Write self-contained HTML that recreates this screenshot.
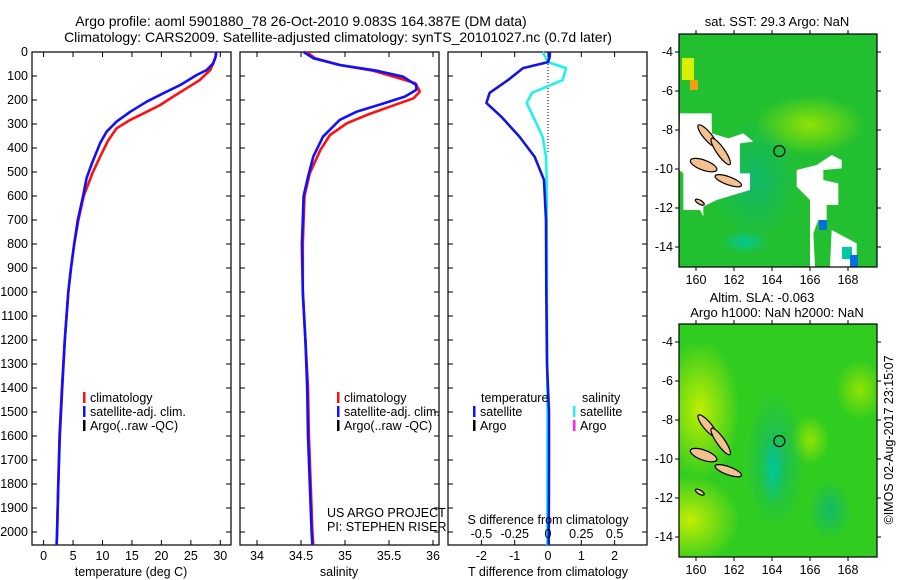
<!DOCTYPE html>
<html><head><meta charset="utf-8"><style>
body{margin:0;background:#fff;}
svg{display:block;font-family:"Liberation Sans",sans-serif;font-size:12.5px;}
.big{font-size:14px;}
.mt{font-size:13px;}
</style></head><body>
<svg id="chart" width="900" height="580" viewBox="0 0 900 580" xmlns="http://www.w3.org/2000/svg">
<g>
<text class="big" x="301" y="26" text-anchor="middle">Argo profile: aoml 5901880_78 26-Oct-2010 9.083S 164.387E (DM data)</text>
<text class="big" x="338" y="42" text-anchor="middle">Climatology: CARS2009. Satellite-adjusted climatology: synTS_20101027.nc (0.7d later)</text>
</g>
<g id="panels"></g>
<g id="maps"></g>
<text transform="translate(893,440) rotate(-90)" text-anchor="middle">©IMOS 02-Aug-2017 23:15:07</text>
</svg>
<script>
const NS='http://www.w3.org/2000/svg';
// ---- data ----
const tcDepth=[0,20,47,75,117,151,186,221,249,283,318,367,421,504,600,700,800,900,1000,1200,1400,1600,1800,2000,2054];
const tempClim=[29.3,29.2,28.8,28.3,26.5,24.3,22.0,19.8,17.5,14.7,12.4,11.0,9.9,8.3,6.8,5.9,5.2,4.65,4.2,3.6,3.1,2.7,2.5,2.3,2.2];
const tsDepth=[0,20,47,75,96,138,172,207,249,290,332,380,464,525,600,700,800,900,1000,1200,1400,1600,1800,2000,2054];
const tempSat=[29.3,29.2,28.8,27.7,26.0,23.2,20.3,17.5,14.7,12.4,10.7,9.6,8.2,7.3,6.7,5.8,5.2,4.65,4.2,3.6,3.15,2.75,2.5,2.3,2.2];
const scDepth=[0,5,26,54,78,110,130,165,193,228,262,297,346,408,505,600,700,800,1000,1200,1400,1600,1800,2000,2054];
const salClim=[34.55,34.58,34.66,34.94,35.32,35.62,35.80,35.85,35.78,35.51,35.25,35.02,34.83,34.72,34.60,34.54,34.53,34.52,34.52,34.55,34.58,34.59,34.61,34.63,34.64];
const ssDepth=[0,5,26,54,78,103,138,158,186,214,249,283,353,436,521,600,700,800,1000,1200,1400,1600,1800,2000,2054];
const salSat=[34.53,34.55,34.64,34.94,35.36,35.66,35.81,35.81,35.68,35.44,35.13,34.94,34.75,34.64,34.58,34.53,34.52,34.51,34.52,34.55,34.57,34.58,34.6,34.62,34.63];
const dDepth=[0,20,42,67,117,170,212,270,354,437,533,700,1000,1300,1500,1700,2054];
const tDiff=[0.06,0.05,0,-0.75,-1.2,-1.75,-1.85,-1.4,-0.85,-0.4,-0.12,-0.06,-0.05,-0.03,0.03,0.03,0.02];
const sDiff=[-0.04,-0.02,0,0.135,0.11,-0.12,-0.16,-0.11,-0.04,-0.015,-0.01,-0.01,-0.008,-0.006,-0.004,-0.005,-0.006];
const depthTicks=[0,100,200,300,400,500,600,700,800,900,1000,1100,1200,1300,1400,1500,1600,1700,1800,1900,2000];
const tempTicks=[0,5,10,15,20,25,30];
const salTicks=[34,34.5,35,35.5,36];
const salTickLabels=['34','34.5','35','35.5','36'];
const tdTicks=[-2,-1,0,1,2];
const sdTickLabels=['-0.5','-0.25','0','0.25','0.5'];
const latTicks=[-4,-6,-8,-10,-12,-14];
const lonTicks=[160,162,164,166,168];
const argoLon=164.387, argoLat=-9.083;

function el(tag,attrs,parent,txt){const e=document.createElementNS(NS,tag);for(const k in attrs)e.setAttribute(k,attrs[k]);if(txt!==undefined)e.textContent=txt;parent.appendChild(e);return e;}
const Y0=52,Y1=545;
const yD=d=>Y0+d*0.24;
const panelsG=document.getElementById('panels');
const panels=[
 {name:'temperature-panel',x0:32,x1:231,fx:v=>43.6+v*5.89},
 {name:'salinity-panel',x0:240,x1:439,fx:v=>257+(v-34)*88},
 {name:'difference-panel',x0:448,x1:647,fx:v=>548+v*33.3}
];
const sdx=v=>548+v*133.2;
panels.forEach((p,i)=>{
 const g=el('g',{},panelsG);
 
 
 const r=el('rect',{x:p.x0,y:Y0,width:p.x1-p.x0,height:Y1-Y0,fill:'none',stroke:'#000','stroke-width':1.2},g);
 
 
 depthTicks.forEach(d=>{
  const y=yD(d);
  el('line',{x1:p.x0,x2:p.x0+5,y1:y,y2:y,stroke:'#000'},g);
  el('line',{x1:p.x1,x2:p.x1-5,y1:y,y2:y,stroke:'#000'},g);
  if(i===0){const t=el('text',{x:28,y:y+4,'text-anchor':'end'},g,String(d));
   
   }
 });
 let ticks=i===0?tempTicks:i===1?salTicks:tdTicks;
 ticks.forEach((v,k)=>{
  const x=p.fx(v);
  el('line',{x1:x,x2:x,y1:Y0,y2:Y0+5,stroke:'#000'},g);
  el('line',{x1:x,x2:x,y1:Y1,y2:Y1-5,stroke:'#000'},g);
  const lab=i===1?salTickLabels[k]:String(v);
  const t=el('text',{x:x,y:560,'text-anchor':'middle'},g,lab);
  
  
 });
});
function line(parent,xs,ds,fx,color,name,w){
 const pts=xs.map((v,k)=>fx(v).toFixed(1)+','+yD(ds[k]).toFixed(1)).join(' ');
 const pl=el('polyline',{points:pts,fill:'none',stroke:color,'stroke-width':w||2.6,'stroke-linejoin':'round'},parent);
 
 
}
line(panelsG,tempClim,tcDepth,panels[0].fx,'#ff1010','temperature-climatology-line');
line(panelsG,tempSat,tsDepth,panels[0].fx,'#1010ff','temperature-satellite-line');
line(panelsG,salClim,scDepth,panels[1].fx,'#ff1010','salinity-climatology-line');
line(panelsG,salSat,ssDepth,panels[1].fx,'#1010ff','salinity-satellite-line');
const zl=el('line',{x1:548,x2:548,y1:Y0,y2:yD(420),stroke:'#000','stroke-dasharray':'1,2'},panelsG);


line(panelsG,sDiff,dDepth,sdx,'#20f0f0','salinity-difference-line');
line(panelsG,tDiff,dDepth,panels[2].fx,'#1515e0','temperature-difference-line');
sdTickLabels.forEach((l,k)=>{const t=el('text',{x:panels[2].fx(tdTicks[k]),y:538,'text-anchor':'middle'},panelsG,l);
 
 });
function txt(x,y,s,name,anchor){const t=el('text',{x:x,y:y,'text-anchor':anchor||'start'},panelsG,s);return t;}
txt(548,524,'S difference from climatology','s-diff-axis-title','middle');
txt(131,576,'temperature (deg C)','temperature-axis-title','middle');
txt(339,576,'salinity','salinity-axis-title','middle');
txt(548,576,'T difference from climatology','t-diff-axis-title','middle');
txt(327,517,'US ARGO PROJECT','project-label');
txt(327,531,'PI: STEPHEN RISER','pi-label');
function legend(x,y,color,label,name){
 const g=el('g',{},panelsG);
 el('rect',{x:x,y:y-10,width:2.5,height:11,fill:color},g);
 el('text',{x:x+7,y:y},g,label);
}
[[83,'#ff1010','climatology'],[83,'#1010ff','satellite-adj. clim.'],[83,'#000','Argo(..raw -QC)']].forEach((a,k)=>{
 legend(a[0],402+k*14,a[1],a[2],'temp-legend-entry');
 legend(a[0]+254,402+k*14,a[1],a[2],'sal-legend-entry');
});
txt(481,402,'temperature','diff-legend-temperature-heading');
txt(582,402,'salinity','diff-legend-salinity-heading');
legend(473,416,'#1010ff','satellite','diff-legend-temp-satellite');
legend(473,430,'#000','Argo','diff-legend-temp-argo');
legend(573,416,'#20f0f0','satellite','diff-legend-sal-satellite');
legend(573,430,'#ff20ff','Argo','diff-legend-sal-argo');

// ---- maps ----
const mapsG=document.getElementById('maps');
const defs=el('defs',{},mapsG);
function rg(id,stops){const g=el('radialGradient',{id:id},defs);stops.forEach(s=>el('stop',{offset:s[0],'stop-color':s[1],'stop-opacity':s[2]},g));}
rg('g1',[[0,'#9be600',0.9],[1,'#9be600',0]]);
rg('g2',[[0,'#10b870',0.9],[1,'#10b870',0]]);
rg('g3',[[0,'#c8f000',0.95],[1,'#c8f000',0]]);
rg('g4',[[0,'#00c8a0',0.9],[1,'#00c8a0',0]]);
function map(top,name,kind){
 const g=el('g',{},mapsG);
 const mx=lon=>696+(lon-160)*19, my=lat=>top+18+(-4-lat)*19.5;
 const X0=679,X1=877,YT=top,YB=top+233;
 const cp=el('clipPath',{id:'c'+name},defs);el('rect',{x:X0,y:YT,width:X1-X0,height:YB-YT},cp);
 const inner=el('g',{'clip-path':'url(#c'+name+')'},g);
 if(kind===1){
  el('rect',{x:X0,y:YT,width:X1-X0,height:YB-YT,fill:'#22c030'},inner);
  el('ellipse',{cx:810,cy:125,rx:55,ry:30,fill:'url(#g1)'},inner);
  el('ellipse',{cx:755,cy:180,rx:45,ry:60,fill:'url(#g2)'},inner);
  el('ellipse',{cx:745,cy:242,rx:25,ry:12,fill:'url(#g4)'},inner);
  el('rect',{x:682,y:58,width:12,height:22,fill:'#d8f000'},inner);
  el('rect',{x:690,y:80,width:8,height:10,fill:'#f0a010'},inner);
  el('rect',{x:731,y:143,width:8,height:12,fill:'#f0a010'},inner);
  el('rect',{x:702,y:124,width:10,height:12,fill:'#d8f000'},inner);
  const wz=[[90,340],[185,340],[185,400],[235,415],[280,400],[310,425],[270,430],[270,520],[300,520],[300,570],[200,600],[160,620],[160,650],[150,630],[100,630],[100,520],[88,510]];
  el('polygon',{points:wz.map(p=>(650+p[0]/3)+','+(p[1]/3)).join(' '),fill:'#fff'},inner);
  const wz2=[[545,465],[575,480],[575,505],[520,510],[520,540],[565,550],[565,615],[530,615],[530,660],[505,660],[490,700],[495,800],[480,800],[480,700],[480,600],[440,560],[440,510],[500,495]];
  el('polygon',{points:wz2.map(p=>(650+p[0]/3)+','+(p[1]/3)).join(' '),fill:'#fff'},inner);
  el('polygon',{points:[[545,690],[620,730],[620,800],[540,800]].map(p=>(650+p[0]/3)+','+(p[1]/3)).join(' '),fill:'#fff'},inner);
  el('rect',{x:819,y:220,width:8,height:10,fill:'#0070e0'},inner);
  el('rect',{x:842,y:247,width:10,height:12,fill:'#00c8a0'},inner);
  el('rect',{x:850,y:255,width:8,height:12,fill:'#0070e0'},inner);
 } else {
  el('rect',{x:X0,y:YT,width:X1-X0,height:YB-YT,fill:'#30cc20'},inner);
  el('ellipse',{cx:700,cy:410,rx:40,ry:70,fill:'url(#g3)'},inner);
  el('ellipse',{cx:690,cy:520,rx:50,ry:45,fill:'url(#g3)'},inner);
  el('ellipse',{cx:860,cy:390,rx:25,ry:30,fill:'url(#g1)'},inner);
  el('ellipse',{cx:810,cy:440,rx:20,ry:25,fill:'url(#g1)'},inner);
  el('ellipse',{cx:775,cy:460,rx:30,ry:70,fill:'url(#g2)'},inner);
  el('ellipse',{cx:773,cy:470,rx:12,ry:35,fill:'url(#g4)'},inner);
  el('ellipse',{cx:830,cy:510,rx:22,ry:30,fill:'url(#g2)'},inner);
 }
 const isl=[[160.6,-8.3,14,4,50],[161.3,-9.1,16,4,55],[160.4,-9.8,14,5,20],[161.7,-10.6,14,4,20],[160.2,-11.7,5,2,30]];
 isl.forEach(a=>{const e=el('ellipse',{cx:mx(a[0]),cy:my(a[1]),rx:a[2],ry:a[3],fill:'#f5c090',stroke:'#000','stroke-width':1.2,transform:'rotate('+a[4]+' '+mx(a[0])+' '+my(a[1])+')'},inner);
  });
 const fr=el('rect',{x:X0,y:YT,width:X1-X0,height:YB-YT,fill:'none',stroke:'#000','stroke-width':1.2},g);
 
 latTicks.forEach(l=>{const y=my(l);el('line',{x1:X0,x2:X0-4,y1:y,y2:y,stroke:'#000'},g);el('line',{x1:X1,x2:X1+4,y1:y,y2:y,stroke:'#000'},g);
  const t=el('text',{x:673,y:y+4,'text-anchor':'end'},g,String(l));});
 lonTicks.forEach(l=>{const x=mx(l);el('line',{x1:x,x2:x,y1:YB,y2:YB+4,stroke:'#000'},g);el('line',{x1:x,x2:x,y1:YT,y2:YT-4,stroke:'#000'},g);
  const t=el('text',{x:x,y:YB+17,'text-anchor':'middle'},g,String(l));});
 const c=el('circle',{cx:mx(argoLon),cy:my(argoLat),r:5.5,fill:'none',stroke:'#000','stroke-width':1.2},g);
 
}
map(34,'sst-map',1);
map(324,'sla-map',2);
function mt(x,y,s,n){const t=el('text',{x:x,y:y,'text-anchor':'middle','class':'mt'},mapsG,s);}
mt(777,26,'sat. SST: 29.3 Argo: NaN','sst-map-title');
mt(762,302,'Altim. SLA: -0.063','sla-map-title');
mt(777,317,'Argo h1000: NaN h2000: NaN','sla-map-subtitle');
</script>
</body></html>
